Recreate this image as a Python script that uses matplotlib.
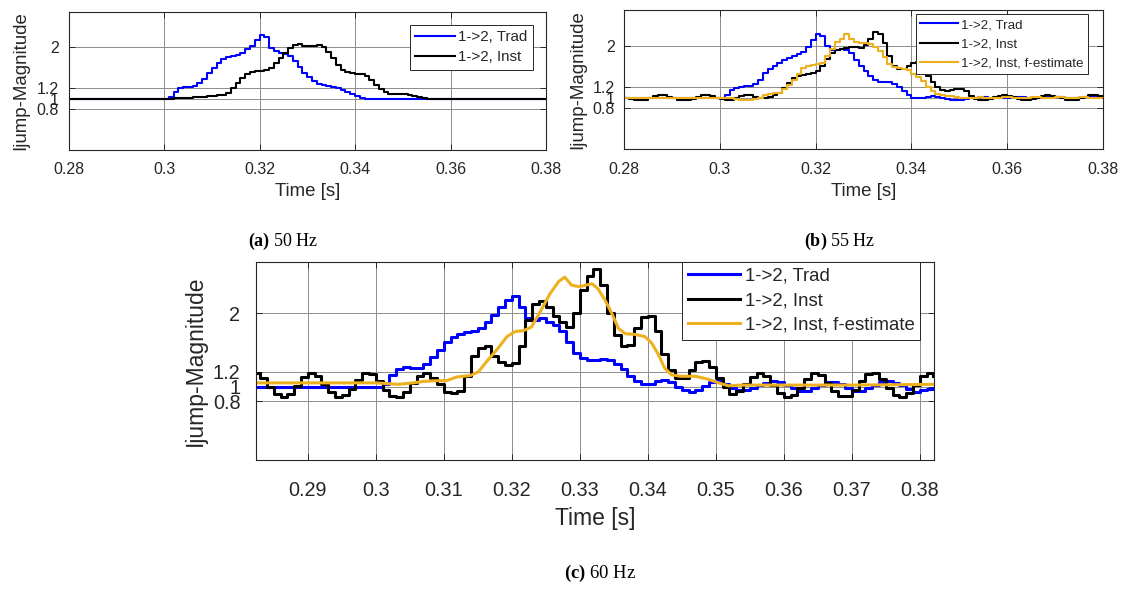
import numpy as np
import matplotlib
matplotlib.use("Agg")
import matplotlib.pyplot as plt

plt.rcParams["font.family"] = ["Liberation Sans", "DejaVu Sans"]
plt.rcParams["mathtext.fontset"] = "custom"
plt.rcParams["mathtext.rm"] = "Liberation Serif"
plt.rcParams["mathtext.bf"] = "Liberation Serif:bold"

# ---------------------------------------------------------------- data
# Sampled current-jump magnitudes, one value per millisecond.
# 50 Hz and 55 Hz cases start at t = 0.280 s, the 60 Hz case at t = 0.282 s.
t0_50 = 0.280
trad_50 = [
    1.00, 1.00, 1.00, 1.00, 1.00, 1.00, 1.00, 1.00, 1.00, 1.00,
    1.00, 1.00, 1.00, 1.00, 1.00, 1.00, 1.00, 1.00, 1.00, 1.00,
    1.00, 1.03, 1.13, 1.20, 1.22, 1.23, 1.24, 1.30, 1.38, 1.50,
    1.60, 1.70, 1.77, 1.81, 1.84, 1.86, 1.90, 1.96, 2.03, 2.14,
    2.25, 2.20, 1.98, 1.93, 1.90, 1.87, 1.83, 1.73, 1.62, 1.50,
    1.42, 1.35, 1.29, 1.26, 1.24, 1.23, 1.20, 1.17, 1.13, 1.09,
    1.05, 1.01, 1.00, 1.00, 1.00, 1.00, 1.00, 1.00, 1.00, 1.00,
    1.00, 1.00, 1.00, 1.00, 1.00, 1.00, 1.00, 1.00, 1.00, 1.00,
    1.00, 1.00, 1.00, 1.00, 1.00, 1.00, 1.00, 1.00, 1.00, 1.00,
    1.00, 1.00, 1.00, 1.00, 1.00, 1.00, 1.00, 1.00, 1.00, 1.00,
    1.00,
]
inst_50 = [
    1.00, 1.00, 1.00, 1.00, 1.00, 1.00, 1.00, 1.00, 1.00, 1.00,
    1.00, 1.00, 1.00, 1.00, 1.00, 1.00, 1.00, 1.00, 1.00, 1.00,
    1.00, 1.00, 1.01, 1.01, 1.02, 1.02, 1.03, 1.03, 1.04, 1.05,
    1.06, 1.07, 1.08, 1.12, 1.20, 1.30, 1.40, 1.48, 1.52, 1.54,
    1.54, 1.56, 1.60, 1.70, 1.80, 1.90, 1.98, 2.05, 2.06, 2.03,
    2.02, 2.03, 2.04, 2.01, 1.92, 1.79, 1.65, 1.56, 1.52, 1.50,
    1.49, 1.48, 1.44, 1.36, 1.27, 1.19, 1.13, 1.10, 1.09, 1.09,
    1.09, 1.08, 1.06, 1.04, 1.02, 1.00, 1.00, 1.00, 1.00, 1.00,
    1.00, 1.00, 1.00, 1.00, 1.00, 1.00, 1.00, 1.00, 1.00, 1.00,
    1.00, 1.00, 1.00, 1.00, 1.00, 1.00, 1.00, 1.00, 1.00, 1.00,
    1.00,
]

t0_55 = 0.280
trad_55 = [
    1.00, 1.00, 1.00, 1.00, 1.00, 1.00, 1.00, 1.00, 1.00, 1.00,
    1.00, 1.00, 1.00, 1.00, 1.00, 1.00, 1.00, 1.00, 1.00, 1.00,
    1.00, 1.05, 1.15, 1.19, 1.21, 1.22, 1.23, 1.27, 1.35, 1.47,
    1.56, 1.62, 1.68, 1.73, 1.77, 1.81, 1.85, 1.89, 1.98, 2.12,
    2.24, 2.20, 2.00, 1.92, 1.92, 1.94, 1.93, 1.86, 1.72, 1.62,
    1.52, 1.42, 1.35, 1.31, 1.31, 1.31, 1.27, 1.20, 1.12, 1.05,
    1.00, 0.99, 1.00, 1.02, 1.03, 1.01, 0.99, 0.97, 0.96, 0.96,
    0.96, 0.97, 0.99, 1.00, 1.01, 1.01, 1.00, 1.00, 0.99, 0.99,
    1.00, 1.01, 1.02, 1.01, 1.00, 0.99, 0.99, 1.00, 1.01, 1.02,
    1.02, 1.01, 1.00, 0.99, 0.99, 1.00, 1.01, 1.02, 1.02, 1.01,
    1.00,
]
inst_55 = [
    1.00, 0.97, 0.955, 0.955, 0.96, 0.99, 1.03, 1.05, 1.045, 1.02,
    0.99, 0.96, 0.955, 0.96, 0.98, 1.02, 1.045, 1.05, 1.03, 1.00,
    0.97, 0.955, 0.96, 0.99, 1.03, 1.05, 1.05, 1.02, 0.99, 0.99,
    1.02, 1.06, 1.10, 1.18, 1.28, 1.38, 1.42, 1.44, 1.46, 1.47,
    1.52, 1.61, 1.75, 1.87, 1.92, 1.95, 1.97, 1.98, 1.98, 1.97,
    2.02, 2.14, 2.28, 2.24, 2.06, 1.80, 1.62, 1.55, 1.56, 1.62,
    1.68, 1.70, 1.60, 1.42, 1.30, 1.20, 1.14, 1.12, 1.14, 1.17,
    1.17, 1.12, 1.04, 0.98, 0.955, 0.955, 0.97, 1.01, 1.04, 1.05,
    1.04, 1.01, 0.98, 0.96, 0.955, 0.97, 1.00, 1.03, 1.05, 1.04,
    1.02, 0.99, 0.96, 0.955, 0.96, 0.99, 1.02, 1.045, 1.05, 1.03,
    1.01,
]
fest_55 = [
    1.00, 1.00, 1.00, 1.00, 1.00, 1.00, 1.00, 1.00, 1.00, 1.00,
    1.00, 1.00, 1.00, 1.00, 1.00, 1.00, 1.00, 1.00, 1.00, 1.00,
    1.00, 1.00, 0.99, 0.98, 0.965, 0.955, 0.955, 0.97, 1.00, 1.05,
    1.08, 1.09, 1.10, 1.16, 1.24, 1.34, 1.46, 1.57, 1.61, 1.63,
    1.65, 1.68, 1.80, 1.95, 2.07, 2.13, 2.23, 2.14, 2.07, 2.06,
    2.05, 2.04, 1.99, 1.90, 1.78, 1.66, 1.60, 1.57, 1.55, 1.54,
    1.46, 1.40, 1.32, 1.20, 1.12, 1.08, 1.06, 1.04, 1.03, 1.01,
    0.99, 0.99, 1.00, 1.00, 1.01, 1.00, 1.00, 0.99, 1.00, 1.01,
    1.01, 1.00, 1.00, 0.99, 1.00, 1.01, 1.01, 1.00, 0.99, 1.00,
    1.01, 1.01, 1.00, 0.99, 1.00, 1.01, 1.01, 1.00, 1.00, 1.00,
    1.00,
]

t0_60 = 0.282
trad_60 = [
    1.00, 1.00, 1.00, 1.00, 1.00, 1.00, 1.00, 1.00, 1.00, 1.00,
    1.00, 1.00, 1.00, 1.00, 1.00, 1.00, 1.00, 1.00, 1.00, 1.04,
    1.16, 1.24, 1.26, 1.25, 1.25, 1.31, 1.40, 1.50, 1.61, 1.68,
    1.72, 1.74, 1.76, 1.80, 1.88, 1.98, 2.08, 2.18, 2.23, 2.08,
    1.93, 1.91, 1.93, 1.88, 1.84, 1.76, 1.60, 1.46, 1.39, 1.36,
    1.36, 1.38, 1.36, 1.31, 1.24, 1.15, 1.08, 1.03, 1.03, 1.08,
    1.09, 1.06, 1.00, 0.95, 0.92, 0.95, 1.01, 1.06, 1.07, 1.03,
    0.98, 0.95, 0.95, 0.98, 1.02, 1.05, 1.07, 1.06, 1.02, 0.98,
    0.94, 0.94, 0.98, 1.02, 1.06, 1.06, 1.03, 0.98, 0.94, 0.94,
    0.98, 1.02, 1.06, 1.07, 1.05, 1.02, 0.96, 0.93, 0.95, 0.97,
    0.98,
]
inst_60 = [
    1.19, 1.12, 1.00, 0.90, 0.86, 0.90, 1.01, 1.13, 1.19, 1.15,
    1.03, 0.92, 0.86, 0.88, 0.97, 1.09, 1.18, 1.17, 1.07, 0.95,
    0.87, 0.86, 0.93, 1.05, 1.15, 1.19, 1.12, 1.03, 0.93, 0.91,
    0.94, 1.15, 1.42, 1.52, 1.55, 1.42, 1.33, 1.29, 1.32, 1.55,
    1.90, 2.12, 2.17, 2.08, 1.96, 1.88, 1.81, 2.00, 2.32, 2.50,
    2.60, 2.38, 2.00, 1.70, 1.55, 1.57, 1.80, 1.95, 1.96, 1.75,
    1.45, 1.22, 1.11, 1.12, 1.22, 1.33, 1.35, 1.26, 1.12, 0.99,
    0.90, 0.94, 1.03, 1.13, 1.19, 1.14, 1.02, 0.91, 0.86, 0.88,
    0.98, 1.10, 1.19, 1.16, 1.05, 0.94, 0.87, 0.87, 0.95, 1.07,
    1.17, 1.18, 1.10, 0.98, 0.89, 0.86, 0.91, 1.02, 1.14, 1.19,
    1.14,
]
# frequency-estimate variant at 60 Hz is a smooth trace (time, value)
fest_60_t = [0.2823, 0.2900, 0.2960, 0.3000, 0.3033, 0.3055, 0.3070, 0.3090,
             0.3104, 0.3119, 0.3139, 0.3151, 0.3163, 0.3178, 0.3193, 0.3205,
             0.3217, 0.3229, 0.3242, 0.3256, 0.3269, 0.3278, 0.3288, 0.3300,
             0.3318, 0.3327, 0.3337, 0.3347, 0.3357, 0.3367, 0.3381, 0.3396,
             0.3406, 0.3416, 0.3425, 0.3435, 0.3448, 0.3470, 0.3489, 0.3504,
             0.3519, 0.3538, 0.3600, 0.3700, 0.3823]
fest_60_v = [1.05, 1.05, 1.05, 1.05, 1.03, 1.05, 1.07, 1.08,
             1.08, 1.13, 1.15, 1.20, 1.34, 1.50, 1.68, 1.75,
             1.76, 1.81, 2.02, 2.26, 2.43, 2.49, 2.38, 2.36,
             2.40, 2.33, 2.18, 2.00, 1.79, 1.72, 1.71, 1.68,
             1.59, 1.43, 1.25, 1.16, 1.14, 1.14, 1.10, 1.05,
             1.01, 1.02, 1.02, 1.02, 1.03]

series_labels = ["1->2, Trad", "1->2, Inst", "1->2, Inst, f-estimate"]
y_ticks = [0.8, 1.0, 1.2, 2.0]
y_tick_labels = ["0.8", "1", "1.2", "2"]
x_ticks_top = [0.28, 0.30, 0.32, 0.34, 0.36, 0.38]
x_tick_labels_top = ["0.28", "0.3", "0.32", "0.34", "0.36", "0.38"]
x_ticks_60 = [0.29, 0.30, 0.31, 0.32, 0.33, 0.34, 0.35, 0.36, 0.37, 0.38]
x_tick_labels_60 = ["0.29", "0.3", "0.31", "0.32", "0.33", "0.34", "0.35",
                    "0.36", "0.37", "0.38"]

# ---------------------------------------------------------------- figure
W, H = 1123, 589
fig = plt.figure(figsize=(W / 100, H / 100), dpi=100)
TEXT = "#262626"
BLUE = "#0000ff"
BLACK = "#000000"
ORANGE = "#edb120"


def axes_px(x0, y0, x1, y1):
    return fig.add_axes([x0 / W, 1 - y1 / H, (x1 - x0) / W, (y1 - y0) / H])


def ms_grid(t0, values):
    return t0 + 0.001 * np.arange(len(values))


def style(ax, xlim, xticks, xticklabels, tick_fs, label_fs,
          xpad, ypad, xlabel_y, ylabel_x):
    ax.set_xlim(*xlim)
    ax.set_ylim(0, 2.7)
    ax.set_xticks(xticks)
    ax.set_xticklabels(xticklabels)
    ax.set_yticks(y_ticks)
    ax.set_yticklabels(y_tick_labels)
    ax.grid(True, color="#8c8c8c", lw=0.7)
    ax.set_axisbelow(True)
    ax.tick_params(direction="in", length=4, width=0.7, top=True, right=True,
                   colors=TEXT, labelsize=tick_fs)
    ax.tick_params(axis="x", pad=xpad)
    ax.tick_params(axis="y", pad=ypad)
    for s in ax.spines.values():
        s.set_color(TEXT)
        s.set_linewidth(0.8)
    ax.set_xlabel("Time [s]", fontsize=label_fs, color=TEXT, va="center")
    ax.xaxis.set_label_coords(0.5, xlabel_y)
    ax.set_ylabel("Ijump-Magnitude", fontsize=label_fs, color=TEXT,
                  va="center")
    ax.yaxis.set_label_coords(ylabel_x, 0.5)


def add_legend(ax, right_px, top_px, fs, hl, ls, bp=0.3):
    leg = ax.legend(loc="upper right",
                    bbox_to_anchor=(right_px / W, 1 - top_px / H),
                    bbox_transform=fig.transFigure, borderaxespad=0,
                    fontsize=fs, handlelength=hl, handletextpad=0.25,
                    labelspacing=ls, borderpad=bp, fancybox=False,
                    framealpha=1)
    leg.get_frame().set_edgecolor(TEXT)
    leg.get_frame().set_linewidth(0.7)
    for txt in leg.get_texts():
        txt.set_color(TEXT)
    return leg


def caption(cx, cy, tag, freq, fs):
    fig.text(cx / W, 1 - cy / H, r"$\mathbf{" + tag + "}$ " + freq,
             family="Liberation Serif", fontsize=fs, ha="center",
             va="center", color="black")


# (a) 50 Hz
ax_a = axes_px(68.5, 11.5, 546, 150)
ax_a.plot(ms_grid(t0_50, trad_50), trad_50, drawstyle="steps-post",
          color=BLUE, lw=1.5, label=series_labels[0])
ax_a.plot(ms_grid(t0_50, inst_50), inst_50, drawstyle="steps-post",
          color=BLACK, lw=1.5, label=series_labels[1])
style(ax_a, (0.28, 0.38), x_ticks_top, x_tick_labels_top, 11.5, 13.4,
      9, 7, -0.3, -0.10)
add_legend(ax_a, 533, 25, 10.9, 2.6, 0.4, bp=0.35)
caption(283, 241, "(a)", "50 Hz", 13)

# (b) 55 Hz
ax_b = axes_px(624.3, 9.8, 1102.8, 149.4)
ax_b.plot(ms_grid(t0_55, trad_55), trad_55, drawstyle="steps-post",
          color=BLUE, lw=1.5, label=series_labels[0])
ax_b.plot(ms_grid(t0_55, inst_55), inst_55, drawstyle="steps-post",
          color=BLACK, lw=1.5, label=series_labels[1])
ax_b.plot(ms_grid(t0_55, fest_55), fest_55, drawstyle="steps-post",
          color=ORANGE, lw=1.5, label=series_labels[2])
style(ax_b, (0.28, 0.38), x_ticks_top, x_tick_labels_top, 11.5, 13.4,
      9, 7, -0.3, -0.097)
add_legend(ax_b, 1088, 14, 9.6, 2.8, 0.52, bp=0.35)
caption(840, 241, "(b)", "55 Hz", 13)

# (c) 60 Hz
ax_c = axes_px(255.7, 261.7, 934, 460)
ax_c.plot(ms_grid(t0_60, trad_60), trad_60, drawstyle="steps-post",
          color=BLUE, lw=2.2, label=series_labels[0])
ax_c.plot(ms_grid(t0_60, inst_60), inst_60, drawstyle="steps-post",
          color=BLACK, lw=2.2, label=series_labels[1])
ax_c.plot(fest_60_t, fest_60_v, color=ORANGE, lw=2.2,
          label=series_labels[2])
style(ax_c, (0.28235, 0.3821), x_ticks_60, x_tick_labels_60, 14.3, 16.5,
      15, 11, -0.2925, -0.0895)
add_legend(ax_c, 920, 261.7, 13.4, 2.8, 0.42)
caption(600, 573, "(c)", "60 Hz", 13.5)

fig.savefig("out.png", dpi=100)
